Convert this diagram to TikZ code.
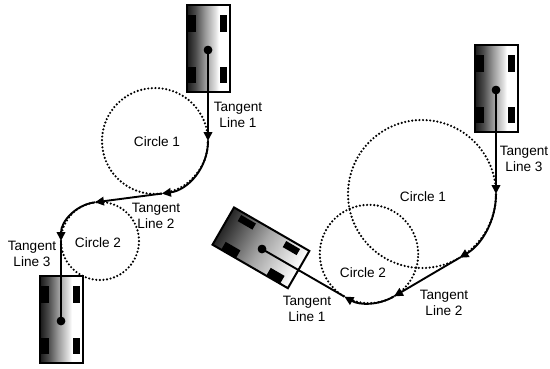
\documentclass[tikz,border=0pt]{standalone}
\usepackage{fontspec}
\setmainfont{Liberation Sans}
\usetikzlibrary{arrows.meta,calc}
\pgfdeclarehorizontalshading{carshade}{100bp}{color(0bp)=(black!90); color(25bp)=(black!90); color(35bp)=(black!70); color(46bp)=(black!40); color(58bp)=(black!12); color(62bp)=(white); color(100bp)=(white)}
\tikzset{
  route/.style={line width=1.9pt},
  tip/.style={-{Triangle[length=9pt,width=8.5pt]}},
  dotcircle/.style={line width=2.4pt, line cap=round, dash pattern=on 0pt off 3.6pt},
  cardot/.style={circle, fill=black, inner sep=0pt, minimum size=8.5pt},
  lbl/.style={align=center, font=\fontsize{13.6}{16}\selectfont, inner sep=0pt},
  pics/car/.style={code={
    \shade[#1] (-21,-42) rectangle (22,45);
    \fill[black] (-21,18) rectangle (-12,35);
    \fill[black] (-21,-17) rectangle (-12,-33);
    \fill[black] (12,18) rectangle (19,35);
    \fill[black] (12,-17) rectangle (19,-33);
    \draw[line width=2pt] (-21,-42) rectangle (22,45);
  }}
}
\begin{document}
\begin{tikzpicture}[x=1pt,y=1pt]
\useasboundingbox (0,0) rectangle (550,368);
% ---------- left diagram ----------
\coordinate (LC1) at (155,227);
\coordinate (LC2) at (100,127);
\draw[dotcircle] (LC1) circle[radius=53];
\draw[dotcircle] (LC2) circle[radius=39];
\pic at (208,318) {car={shading=carshade}};
\pic at (61,47) {car={shading=carshade}};
\node[cardot] (d1) at (208,318) {};
\node[cardot] (d2) at (61,47) {};
\coordinate (L1t) at (208,227);
\coordinate (L1p) at ($(LC1)+(-82.5:53)$);
\coordinate (L2p) at ($(LC2)+(97.5:39)$);
\coordinate (L2t) at (61,127);
\draw[route,tip] (d1.center) -- (L1t);
\draw[route,tip] (L1t) arc[start angle=0,end angle=-82.5,radius=53];
\draw[route,tip] (L1p) -- (L2p);
\draw[route,tip] (L2p) arc[start angle=97.5,end angle=180,radius=39];
\draw[route] (L2t) -- (d2.center);
\node[cardot] at (d1) {};
\node[cardot] at (d2) {};
\node[lbl] (lt1) at (238,253) {Tangent\\Line 1};
\node[lbl] (lc1) at (157,226) {Circle 1};
\node[lbl] (lt2) at (156,152.5) {Tangent\\Line 2};
\node[lbl] (lc2) at (98,125) {Circle 2};
\node[lbl] (lt3) at (32,114.5) {Tangent\\Line 3};
% ---------- right diagram ----------
\coordinate (RC1) at (422,174);
\coordinate (RC2) at (369,114);
\draw[dotcircle] (RC1) circle[radius=74];
\draw[dotcircle] (RC2) circle[radius=49.2];
\pic at (496,278) {car={shading=carshade}};
\begin{scope}[transform canvas={shift={(262,119)}, rotate=60}]
  \pic at (0,0) {car={top color=black!85, bottom color=white, middle color=black!35}};
\end{scope}
\node[cardot] (d3) at (496,278) {};
\node[cardot] (d4) at (262,119) {};
\coordinate (R1t) at (496,174);
\coordinate (R1p) at ($(RC1)+(-59.5:74)$);
\coordinate (R2p) at ($(RC2)+(-59.5:49.2)$);
\coordinate (R2t) at ($(RC2)+(-120:49.2)$);
\draw[route,tip] (d3.center) -- (R1t);
\draw[route,tip] (R1t) arc[start angle=0,end angle=-59.5,radius=74];
\draw[route,tip] (R1p) -- (R2p);
\draw[route,tip] (R2p) arc[start angle=-59.5,end angle=-120,radius=49.2];
\draw[route] (R2t) -- (d4.center);
\node[cardot] at (d3) {};
\node[cardot] at (d4) {};
\node[lbl] (rt3) at (524,209) {Tangent\\Line 3};
\node[lbl] (rc1) at (423,171) {Circle 1};
\node[lbl] (rc2) at (363,95) {Circle 2};
\node[lbl] (rt1) at (307,59.5) {Tangent\\Line 1};
\node[lbl] (rt2) at (444,65.5) {Tangent\\Line 2};
\end{tikzpicture}
\end{document}
